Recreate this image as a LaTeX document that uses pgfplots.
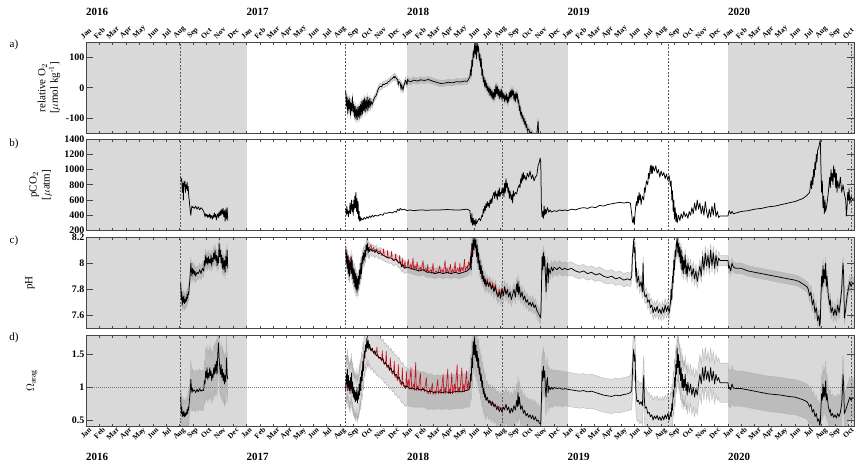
\documentclass[border=0pt]{standalone}
\usepackage{pgfplots}
\pgfplotsset{compat=1.18}
\usepackage{pgfplotstable}
\usepgfplotslibrary{fillbetween}
\usepackage{fontspec}
\setmainfont{Liberation Serif}
\definecolor{bggray}{gray}{0.85}
\definecolor{redl}{RGB}{200,16,30}

\pgfplotstableread{
m v e
19.42 -10 12
19.47 -60 12
19.52 -30 12
19.57 -85 12
19.62 -40 12
19.67 -70 12
19.72 -35 12
19.77 -90 12
19.82 -50 12
19.87 -75 12
19.92 -30 12
19.97 -80 12
20.02 -55 12
20.07 -95 12
20.12 -60 12
20.17 -100 12
20.22 -70 12
20.27 -105 12
20.32 -65 12
20.37 -95 12
20.42 -60 12
20.47 -100 12
20.52 -55 12
20.57 -90 12
20.62 -45 12
20.67 -85 12
20.72 -40 12
20.77 -75 12
20.82 -35 12
20.87 -80 12
20.92 -40 12
20.97 -70 12
21.02 -30 12
21.07 -75 12
21.12 -40 12
21.17 -65 12
21.22 -35 12
21.27 -60 12
21.32 -45 12
21.4 -55 12
21.5 -40 10
21.6 -30 10
21.7 -25 10
21.8 -10 10
21.9 0 10
22.0 5 10
22.1 3 10
22.2 12 10
22.3 10 10
22.4 15 10
22.5 14 10
22.6 20 10
22.7 22 10
22.8 28 10
22.9 30 10
23.0 36 10
23.05 32 10
23.1 38 10
23.2 30 10
23.3 26 10
23.35 10 10
23.4 20 10
23.5 15 10
23.55 -5 10
23.6 10 10
23.7 -8 10
23.75 5 10
23.8 12 10
23.9 25 10
24.0 10 10
24.05 28 10
24.1 22 10
24.3 20 10
24.5 25 10
24.8 22 10
25.0 26 10
25.3 24 10
25.6 27 10
25.9 22 10
26.2 18 10
26.5 14 10
26.8 15 10
27.1 18 10
27.4 16 10
27.7 20 10
28.0 19 10
28.3 22 10
28.5 21 10
28.6 28 10
28.7 35 10
28.75 60 10
28.8 40 10
28.85 90 10
28.9 70 10
28.95 120 10
29.0 100 10
29.05 140 10
29.1 110 10
29.15 150 10
29.2 95 10
29.25 145 10
29.3 120 10
29.35 135 10
29.4 90 10
29.45 110 10
29.5 70 10
29.55 95 10
29.6 40 10
29.65 60 10
29.7 20 10
29.75 35 10
29.8 5 10
29.85 25 10
29.9 0 10
29.95 15 10
30.0 -10 10
30.05 5 10
30.1 -15 10
30.15 0 10
30.2 -25 10
30.25 -5 10
30.3 -30 10
30.35 -10 10
30.4 -35 10
30.45 -15 10
30.5 -40 10
30.55 -5 10
30.6 -30 10
30.65 10 10
30.7 -20 10
30.75 5 10
30.8 -25 10
30.85 -5 10
30.9 -35 10
30.95 -10 10
31.0 -30 10
31.05 -5 10
31.1 -40 10
31.15 -15 10
31.2 -35 10
31.25 -20 10
31.3 -45 10
31.35 -25 10
31.4 -40 10
31.45 -20 10
31.5 -50 10
31.55 -30 10
31.6 -45 10
31.65 -15 10
31.7 -35 10
31.75 -10 10
31.8 -30 10
31.85 -5 10
31.9 -25 10
31.95 -10 10
32.0 -40 10
32.05 -20 10
32.1 -45 10
32.15 -15 10
32.2 -35 10
32.25 -20 10
32.3 -50 10
32.35 -40 10
32.4 -75 10
32.45 -60 10
32.5 -90 10
32.55 -80 10
32.6 -100 10
32.65 -90 10
32.7 -110 10
32.75 -100 10
32.8 -120 10
32.85 -110 10
32.9 -130 10
32.95 -120 10
33.0 -140 10
33.1 -135 10
33.2 -150 10
33.3 -145 10
33.5 -160 10
33.7 -155 10
33.8 -110 10
33.85 -160 10
34.0 -170 10
}\oxA

\pgfplotstableread{
m v
7.08 900
7.12 850
7.16 880
7.2 700
7.24 820
7.28 600
7.32 840
7.36 780
7.4 850
7.44 700
7.48 800
7.52 750
7.56 830
7.6 720
7.64 780
7.68 650
7.72 600
7.76 520
7.8 450
7.84 400
7.88 480
7.92 520
7.96 500
8.0 510
8.1 490
8.2 520
8.3 480
8.4 510
8.5 470
8.6 500
8.7 480
8.8 450
8.85 420
8.9 380
8.95 420
9.0 390
9.05 410
9.1 370
9.15 400
9.2 380
9.25 420
9.3 360
9.35 400
9.4 380
9.45 350
9.5 400
9.55 370
9.6 430
9.65 380
9.7 410
9.75 340
9.8 390
9.85 420
9.9 370
9.95 440
10.0 390
10.05 460
10.1 400
10.15 480
10.2 420
10.25 490
10.3 380
10.35 460
10.4 320
10.45 480
10.5 350
10.55 500
10.6 330
}\pcoA

\pgfplotstableread{
m v
19.42 480
19.46 400
19.5 520
19.54 420
19.58 470
19.62 380
19.66 450
19.7 430
19.74 560
19.78 420
19.82 520
19.86 600
19.9 450
19.94 540
19.98 400
20.02 600
20.06 480
20.1 650
20.14 500
20.18 700
20.22 450
20.26 620
20.3 420
20.34 580
20.38 350
20.42 450
20.46 320
20.5 380
20.55 330
20.6 360
20.7 340
20.8 370
20.9 350
21.0 380
21.1 360
21.2 390
21.3 370
21.4 400
21.5 380
21.6 400
21.8 390
22.0 410
22.2 400
22.3 430
22.5 425
22.7 440
22.9 430
23.1 450
23.2 440
23.3 480
23.4 460
23.5 490
23.6 470
23.8 480
24.0 460
24.2 470
24.5 460
25.0 470
25.5 465
26.0 470
26.5 470
27.0 475
27.5 470
28.0 470
28.5 480
28.7 460
28.8 300
28.85 420
28.9 270
28.95 360
29.0 280
29.05 330
29.1 260
29.15 350
29.2 290
29.3 330
29.4 360
29.5 330
29.6 400
29.65 380
29.7 480
29.75 430
29.8 520
29.85 460
29.9 550
29.95 500
30.0 580
30.05 520
30.1 560
30.15 500
30.2 600
30.25 550
30.3 620
30.35 560
30.4 640
30.5 700
30.55 620
30.6 720
30.65 650
30.7 680
30.75 600
30.8 720
30.85 650
30.9 760
30.95 640
31.0 700
31.05 680
31.1 750
31.15 690
31.2 760
31.25 640
31.3 820
31.35 700
31.4 880
31.45 760
31.5 820
31.55 700
31.6 760
31.65 620
31.7 720
31.75 650
31.8 600
31.85 680
31.9 560
31.95 720
32.0 650
32.1 700
32.2 680
32.3 760
32.4 800
32.45 760
32.5 880
32.55 820
32.6 940
32.65 850
32.7 960
32.75 880
32.8 920
32.9 860
33.0 950
33.1 900
33.2 980
33.3 880
33.4 930
33.5 850
33.6 900
33.7 920
33.8 1050
33.9 1100
33.95 1150
34.0 1100
34.05 500
34.1 380
34.15 450
34.2 360
34.25 520
34.3 400
34.35 480
34.4 420
34.5 500
34.6 440
34.7 470
34.8 440
35.0 460
35.2 450
35.4 470
35.6 460
35.8 470
36.0 460
36.3 480
36.6 470
36.9 490
37.2 500
37.5 490
37.8 510
38.1 500
38.4 530
38.7 520
39.0 540
39.3 550
39.6 560
39.9 570
40.2 560
40.5 570
40.7 560
40.8 420
40.85 320
40.9 300
40.95 380
41.0 280
41.05 420
41.1 520
41.15 580
41.2 520
41.25 650
41.3 560
41.35 700
41.4 600
41.45 670
41.5 540
41.6 650
41.7 600
41.75 760
41.8 700
41.9 850
42.0 800
42.05 950
42.1 880
42.2 1050
42.25 940
42.3 1060
42.35 950
42.4 1040
42.5 980
42.6 1050
42.7 950
42.8 1000
42.9 900
43.0 980
43.1 920
43.2 960
43.3 880
43.4 940
43.5 860
43.6 920
43.7 780
43.75 850
43.8 600
43.85 720
43.9 450
43.95 600
44.0 350
44.05 500
44.1 320
44.15 420
44.2 300
44.3 400
44.4 330
44.5 420
44.6 360
44.7 450
44.8 380
44.9 420
45.0 360
45.1 450
45.2 400
45.3 500
45.4 420
45.5 560
45.6 460
45.7 600
45.8 480
45.9 560
46.0 420
46.1 520
46.2 400
46.3 580
46.4 450
46.5 360
46.6 480
46.7 380
46.8 520
46.9 400
47.0 560
47.1 380
47.2 450
47.3 370
47.4 390
47.6 390
47.8 390
48.0 390
48.05 440
48.1 460
48.2 420
48.3 450
48.4 420
48.6 430
48.8 440
49.0 450
49.5 460
50.0 480
50.5 490
51.0 510
51.5 520
52.0 540
52.5 560
53.0 580
53.3 600
53.6 620
53.9 660
54.1 700
54.2 850
54.25 750
54.3 900
54.35 800
54.4 1000
54.45 900
54.5 1100
54.55 1000
54.6 1200
54.65 1100
54.7 1250
54.8 1300
54.85 1350
54.9 1390
54.95 1000
55.0 700
55.05 850
55.1 500
55.15 650
55.2 420
55.25 600
55.3 450
55.4 550
55.5 700
55.55 800
55.6 900
55.65 760
55.7 1000
55.75 850
55.8 950
55.85 800
55.9 1050
55.95 900
56.0 1000
56.05 760
56.1 950
56.15 700
56.2 850
56.3 750
56.4 900
56.5 700
56.6 800
56.7 680
56.8 600
56.85 390
56.9 500
56.95 700
57.0 600
57.05 750
57.1 550
57.2 650
57.3 600
57.42 620
}\pcoB

\pgfplotstableread{
m v e
7.08 7.85 0.05
7.12 7.72 0.05
7.16 7.78 0.05
7.2 7.68 0.05
7.24 7.74 0.05
7.28 7.7 0.05
7.32 7.75 0.05
7.36 7.69 0.05
7.4 7.72 0.05
7.44 7.7 0.05
7.48 7.74 0.05
7.52 7.71 0.05
7.56 7.76 0.05
7.6 7.73 0.05
7.64 7.78 0.05
7.68 7.76 0.05
7.72 7.82 0.05
7.76 7.87 0.05
7.8 7.92 0.05
7.84 8.0 0.05
7.88 7.95 0.05
7.92 7.9 0.05
7.96 7.96 0.05
8.0 7.92 0.05
8.05 7.95 0.05
8.1 7.91 0.05
8.15 7.94 0.05
8.2 7.9 0.05
8.3 7.93 0.05
8.4 7.92 0.05
8.5 7.95 0.05
8.6 7.92 0.05
8.7 7.96 0.05
8.8 7.94 0.05
8.85 8.02 0.05
8.9 7.98 0.05
8.95 8.06 0.05
9.0 8.0 0.05
9.05 8.04 0.05
9.1 7.99 0.05
9.15 8.05 0.05
9.2 8.0 0.05
9.25 8.03 0.05
9.3 8.0 0.05
9.35 8.06 0.05
9.4 7.98 0.05
9.45 8.04 0.05
9.5 8.01 0.05
9.55 8.08 0.05
9.6 8.03 0.05
9.65 8.1 0.05
9.7 8.02 0.05
9.75 8.06 0.05
9.8 7.98 0.05
9.85 8.05 0.05
9.9 8.0 0.05
9.95 8.15 0.05
10.0 8.05 0.05
10.05 8.1 0.05
10.1 8.0 0.05
10.15 8.06 0.05
10.2 7.96 0.05
10.25 8.04 0.05
10.3 7.95 0.05
10.35 8.02 0.05
10.4 7.93 0.05
10.45 8.05 0.05
10.5 7.98 0.05
10.55 8.1 0.05
10.6 7.96 0.05
}\phA

\pgfplotstableread{
m v e
19.42 8.1 0.05
19.46 8.0 0.05
19.5 8.08 0.05
19.54 7.96 0.05
19.58 8.05 0.05
19.62 7.92 0.05
19.66 8.02 0.05
19.7 7.9 0.05
19.74 8.0 0.05
19.78 7.95 0.05
19.82 8.05 0.05
19.86 7.92 0.05
19.9 8.02 0.05
19.94 7.88 0.05
19.98 7.96 0.05
20.02 7.85 0.05
20.06 7.95 0.05
20.1 7.82 0.05
20.14 7.92 0.05
20.18 7.8 0.05
20.22 7.9 0.05
20.26 7.78 0.05
20.3 7.88 0.05
20.34 7.8 0.05
20.38 7.9 0.05
20.42 7.84 0.05
20.46 7.95 0.05
20.5 7.88 0.05
20.55 8.0 0.05
20.6 7.92 0.05
20.65 8.05 0.05
20.7 8.0 0.05
20.75 8.08 0.05
20.8 8.02 0.05
20.85 8.1 0.05
20.9 8.05 0.05
20.95 8.14 0.05
21.0 8.1 0.05
21.05 8.15 0.05
21.1 8.08 0.05
21.15 8.12 0.05
21.2 8.09 0.05
21.3 8.11 0.04
21.4 8.09 0.04
21.5 8.1 0.04
21.6 8.08 0.04
21.7 8.1 0.04
21.8 8.08 0.04
21.9 8.07 0.04
22.0 8.08 0.04
22.2 8.06 0.04
22.4 8.05 0.04
22.6 8.04 0.04
22.8 8.04 0.04
23.0 8.02 0.04
23.2 8.03 0.04
23.4 8.0 0.04
23.5 8.01 0.04
23.6 7.97 0.04
23.7 7.99 0.04
23.8 7.96 0.04
24.0 7.97 0.04
24.3 7.96 0.04
24.6 7.95 0.04
24.9 7.94 0.04
25.2 7.95 0.04
25.5 7.93 0.04
25.8 7.93 0.04
26.1 7.92 0.04
26.4 7.93 0.04
26.7 7.92 0.04
27.0 7.93 0.04
27.3 7.92 0.04
27.6 7.93 0.04
27.9 7.92 0.04
28.2 7.93 0.04
28.5 7.94 0.04
28.7 7.96 0.04
28.75 8.05 0.05
28.8 7.95 0.05
28.85 8.15 0.05
28.9 8.05 0.05
28.95 8.2 0.05
29.0 8.1 0.05
29.05 8.2 0.05
29.1 8.12 0.05
29.15 8.18 0.05
29.2 8.05 0.05
29.25 8.14 0.05
29.3 8.0 0.05
29.35 8.08 0.05
29.4 7.95 0.05
29.45 8.02 0.05
29.5 7.92 0.05
29.55 7.98 0.05
29.6 7.88 0.05
29.65 7.94 0.05
29.7 7.86 0.05
29.75 7.9 0.05
29.8 7.84 0.05
29.85 7.88 0.05
29.9 7.82 0.05
30.0 7.86 0.05
30.1 7.82 0.05
30.2 7.85 0.05
30.3 7.8 0.05
30.4 7.83 0.05
30.5 7.78 0.05
30.6 7.82 0.05
30.7 7.77 0.05
30.8 7.74 0.05
30.9 7.78 0.05
31.0 7.73 0.05
31.1 7.8 0.05
31.2 7.75 0.05
31.3 7.82 0.05
31.4 7.76 0.05
31.5 7.8 0.05
31.6 7.74 0.05
31.7 7.78 0.05
31.8 7.72 0.05
31.9 7.76 0.05
32.0 7.8 0.05
32.1 7.74 0.05
32.2 7.84 0.05
32.25 7.78 0.05
32.3 7.86 0.05
32.35 7.76 0.05
32.4 7.82 0.05
32.5 7.74 0.05
32.6 7.78 0.05
32.7 7.72 0.05
32.8 7.75 0.05
32.9 7.7 0.05
33.0 7.72 0.05
33.1 7.68 0.05
33.2 7.7 0.05
33.3 7.67 0.05
33.4 7.7 0.05
33.5 7.66 0.05
33.6 7.68 0.05
33.7 7.64 0.05
33.8 7.62 0.05
33.9 7.6 0.05
34.0 7.58 0.05
34.05 7.8 0.05
34.1 8.05 0.05
34.15 7.95 0.05
34.2 8.08 0.05
34.25 7.98 0.05
34.3 8.05 0.05
34.35 7.9 0.05
34.4 7.78 0.05
34.45 7.95 0.05
34.5 8.0 0.05
34.55 7.85 0.05
34.6 7.96 0.05
34.7 7.92 0.05
34.8 7.97 0.05
34.9 7.94 0.05
35.0 7.97 0.05
35.2 7.95 0.05
35.4 7.97 0.05
35.6 7.95 0.05
35.8 7.96 0.05
36.0 7.95 0.05
36.3 7.96 0.05
36.6 7.94 0.05
36.9 7.93 0.05
37.2 7.94 0.05
37.5 7.92 0.05
37.8 7.93 0.05
38.1 7.91 0.05
38.4 7.92 0.05
38.7 7.9 0.05
39.0 7.89 0.05
39.3 7.9 0.05
39.6 7.88 0.05
39.9 7.89 0.05
40.2 7.87 0.05
40.5 7.88 0.05
40.7 7.87 0.05
40.8 7.9 0.05
40.85 8.05 0.05
40.9 8.1 0.05
40.95 8.18 0.05
41.0 8.08 0.05
41.05 8.12 0.05
41.1 7.9 0.05
41.15 7.96 0.05
41.2 7.85 0.05
41.3 7.9 0.05
41.4 7.82 0.05
41.5 7.86 0.05
41.6 7.78 0.05
41.65 8.0 0.05
41.7 7.8 0.05
41.8 7.74 0.05
41.9 7.76 0.05
42.0 7.7 0.05
42.1 7.72 0.05
42.2 7.66 0.05
42.3 7.68 0.05
42.4 7.62 0.05
42.5 7.66 0.05
42.6 7.63 0.05
42.7 7.67 0.05
42.8 7.62 0.05
42.9 7.65 0.05
43.0 7.61 0.05
43.1 7.66 0.05
43.2 7.62 0.05
43.3 7.68 0.05
43.4 7.63 0.05
43.5 7.67 0.05
43.6 7.62 0.05
43.7 7.7 0.05
43.75 7.8 0.05
43.8 7.72 0.05
43.85 7.9 0.05
43.9 7.85 0.05
43.95 8.02 0.05
44.0 7.95 0.05
44.05 8.1 0.05
44.1 8.05 0.05
44.15 8.15 0.05
44.2 8.2 0.05
44.25 8.08 0.05
44.3 8.15 0.05
44.35 8.05 0.05
44.4 8.12 0.05
44.45 8.0 0.05
44.5 8.1 0.05
44.55 7.95 0.05
44.6 8.05 0.05
44.65 7.92 0.05
44.7 8.02 0.05
44.75 7.96 0.05
44.8 8.06 0.05
44.85 7.92 0.05
44.9 7.98 0.05
44.95 7.9 0.05
45.0 8.0 0.05
45.1 7.94 0.05
45.2 7.98 0.05
45.3 7.9 0.05
45.4 7.96 0.05
45.5 7.88 0.05
45.6 7.94 0.05
45.7 7.86 0.05
45.8 7.92 0.05
45.9 7.98 0.05
46.0 7.9 0.05
46.1 8.05 0.05
46.2 7.95 0.05
46.3 8.08 0.05
46.4 7.98 0.05
46.5 8.06 0.05
46.6 7.96 0.05
46.7 8.1 0.05
46.8 7.98 0.05
46.9 8.08 0.05
47.0 7.96 0.05
47.1 8.06 0.05
47.2 7.98 0.05
47.3 8.04 0.05
47.4 8.02 0.04
47.7 8.02 0.04
48.0 8.02 0.04
48.05 7.96 0.04
48.1 7.98 0.04
48.2 7.94 0.04
48.3 8.0 0.04
48.4 7.97 0.04
48.6 7.96 0.04
49.0 7.96 0.04
49.5 7.94 0.04
50.0 7.93 0.04
50.5 7.92 0.04
51.0 7.91 0.04
51.5 7.9 0.04
52.0 7.89 0.04
52.5 7.88 0.04
53.0 7.87 0.04
53.3 7.86 0.04
53.6 7.84 0.04
53.9 7.82 0.04
54.0 7.8 0.05
54.1 7.75 0.05
54.2 7.78 0.05
54.3 7.68 0.05
54.4 7.72 0.05
54.5 7.62 0.05
54.6 7.66 0.05
54.7 7.56 0.05
54.8 7.6 0.05
54.85 7.52 0.05
54.9 7.55 0.05
54.95 7.75 0.05
55.0 7.9 0.05
55.05 7.82 0.05
55.1 7.98 0.05
55.15 7.85 0.05
55.2 7.95 0.05
55.25 7.88 0.05
55.3 8.0 0.05
55.35 7.82 0.05
55.4 7.9 0.05
55.5 7.75 0.05
55.6 7.68 0.05
55.65 7.72 0.05
55.7 7.62 0.05
55.8 7.66 0.05
55.9 7.6 0.05
56.0 7.65 0.05
56.1 7.6 0.05
56.2 7.68 0.05
56.3 7.62 0.05
56.4 7.7 0.05
56.5 7.8 0.05
56.55 7.92 0.05
56.6 8.0 0.05
56.65 7.9 0.05
56.7 7.58 0.05
56.8 7.65 0.05
56.9 7.75 0.05
57.0 7.8 0.05
57.1 7.86 0.05
57.2 7.82 0.05
57.3 7.85 0.05
57.42 7.84 0.05
}\phB

\pgfplotstableread{
m v
19.42 8.12
19.5 8.05
19.55 7.98
19.6 8.06
19.65 7.94
19.7 8.02
19.75 7.92
19.8 8.04
19.85 7.95
19.9 8.0
19.95 7.9
20.0 7.94
20.1 7.86
20.2 7.84
20.3 7.88
20.4 7.86
20.5 7.92
20.6 7.98
20.7 8.06
20.8 8.04
20.9 8.08
21.0 8.12
21.1 8.1
21.2 8.12
21.3 8.14
21.4 8.1
21.5 8.12
21.6 8.09
21.7 8.11
21.8 8.1
21.9 8.08
22.0 8.1
22.1 8.06
22.2 8.07
22.25 8.11
22.3 8.06
22.4 8.05
22.5 8.04
22.55 8.1
22.6 8.04
22.8 8.05
22.85 8.09
22.9 8.03
23.1 8.03
23.15 8.07
23.2 8.02
23.4 8.0
23.45 8.06
23.5 8.0
23.6 7.98
23.65 8.04
23.7 7.97
23.8 7.97
23.85 8.02
23.9 7.96
24.0 7.97
24.1 8.03
24.15 7.96
24.3 7.99
24.35 7.95
24.45 8.04
24.5 7.95
24.6 7.98
24.7 7.95
24.75 8.01
24.85 7.94
25.0 7.97
25.05 7.94
25.2 8.02
25.25 7.94
25.4 7.96
25.5 7.93
25.55 7.99
25.6 7.93
25.8 7.95
25.85 7.92
25.95 8.0
26.0 7.92
26.2 7.94
26.3 7.92
26.45 7.98
26.5 7.93
26.6 7.95
26.7 7.92
26.85 8.02
26.9 7.92
27.0 7.96
27.1 7.92
27.25 7.99
27.3 7.92
27.4 7.95
27.5 7.93
27.6 8.01
27.65 7.93
27.8 7.96
27.9 7.93
27.95 8.0
28.0 7.93
28.1 7.97
28.2 7.94
28.3 8.03
28.35 7.94
28.5 7.98
28.55 7.95
28.6 8.01
28.7 7.98
28.8 8.1
29.0 8.15
29.2 8.1
29.4 8.0
29.6 7.92
29.8 7.86
29.9 7.84
30.0 7.88
30.1 7.83
30.2 7.86
30.3 7.81
30.4 7.85
30.5 7.79
30.6 7.84
30.7 7.78
30.8 7.76
30.9 7.8
31.0 7.75
31.1 7.81
31.2 7.76
31.3 7.8
}\phR

\pgfplotstableread{
m v e
7.08 0.86 0.25
7.12 0.6 0.2
7.16 0.7 0.2
7.2 0.55 0.2
7.24 0.62 0.2
7.28 0.56 0.2
7.32 0.64 0.2
7.36 0.55 0.2
7.4 0.6 0.2
7.44 0.56 0.2
7.48 0.62 0.2
7.52 0.58 0.2
7.56 0.66 0.2
7.6 0.6 0.2
7.64 0.7 0.25
7.68 0.65 0.25
7.72 0.78 0.25
7.76 0.85 0.25
7.8 0.95 0.25
7.84 1.12 0.3
7.88 1.0 0.3
7.92 0.92 0.3
7.96 0.98 0.3
8.0 0.94 0.3
8.1 0.96 0.3
8.2 0.92 0.3
8.3 0.97 0.3
8.4 0.93 0.3
8.5 0.98 0.3
8.6 0.94 0.3
8.7 0.96 0.3
8.8 0.95 0.3
8.85 1.1 0.3
8.9 1.05 0.3
8.95 1.25 0.35
9.0 1.15 0.35
9.05 1.3 0.35
9.1 1.12 0.35
9.15 1.22 0.35
9.2 1.15 0.35
9.25 1.3 0.35
9.3 1.18 0.35
9.35 1.25 0.35
9.4 1.1 0.35
9.45 1.2 0.35
9.5 1.15 0.35
9.55 1.3 0.35
9.6 1.2 0.35
9.65 1.35 0.35
9.7 1.22 0.35
9.75 1.4 0.35
9.8 1.2 0.35
9.85 1.5 0.35
9.9 1.68 0.35
9.95 1.45 0.35
10.0 1.3 0.35
10.05 1.2 0.35
10.1 1.35 0.35
10.15 1.15 0.35
10.2 1.28 0.35
10.25 1.1 0.35
10.3 1.22 0.35
10.35 1.05 0.35
10.4 1.18 0.35
10.45 1.08 0.35
10.5 1.45 0.35
10.55 1.2 0.35
10.6 1.12 0.35
}\omA

\pgfplotstableread{
m v e
19.42 0.95 0.3
19.46 1.2 0.3
19.5 1.05 0.3
19.54 1.28 0.3
19.58 1.0 0.3
19.62 1.18 0.3
19.66 0.95 0.3
19.7 1.1 0.3
19.74 0.9 0.3
19.78 1.15 0.3
19.82 0.98 0.3
19.86 1.22 0.3
19.9 0.92 0.3
19.94 1.08 0.3
19.98 0.85 0.3
20.02 1.0 0.3
20.06 0.82 0.3
20.1 0.95 0.3
20.14 0.78 0.3
20.18 0.92 0.3
20.22 0.8 0.3
20.26 1.0 0.3
20.3 0.76 0.3
20.34 0.9 0.3
20.38 0.82 0.3
20.42 1.05 0.3
20.46 0.88 0.3
20.5 1.15 0.3
20.55 0.95 0.3
20.6 1.25 0.3
20.65 1.1 0.3
20.7 1.4 0.3
20.75 1.25 0.3
20.8 1.55 0.3
20.85 1.45 0.3
20.9 1.65 0.3
20.95 1.55 0.3
21.0 1.75 0.3
21.05 1.6 0.3
21.1 1.72 0.3
21.15 1.58 0.3
21.2 1.66 0.3
21.3 1.56 0.3
21.4 1.6 0.3
21.5 1.52 0.3
21.6 1.56 0.3
21.7 1.48 0.3
21.8 1.5 0.3
21.9 1.45 0.3
22.0 1.46 0.3
22.1 1.42 0.3
22.2 1.44 0.3
22.3 1.36 0.3
22.4 1.38 0.3
22.5 1.32 0.3
22.6 1.34 0.3
22.7 1.27 0.3
22.8 1.3 0.3
22.9 1.23 0.3
23.0 1.25 0.3
23.1 1.18 0.3
23.2 1.2 0.3
23.3 1.14 0.3
23.4 1.16 0.3
23.5 1.1 0.3
23.6 1.06 0.3
23.7 1.08 0.3
23.8 1.02 0.3
23.9 1.0 0.3
24.0 1.02 0.28
24.2 0.98 0.28
24.4 0.99 0.28
24.6 0.97 0.28
24.8 0.98 0.28
25.0 0.96 0.27
25.2 0.97 0.27
25.4 0.95 0.27
25.6 0.93 0.27
25.8 0.94 0.27
26.0 0.92 0.26
26.3 0.93 0.26
26.6 0.92 0.26
26.9 0.93 0.26
27.2 0.92 0.26
27.5 0.93 0.26
27.8 0.94 0.26
28.1 0.93 0.26
28.4 0.95 0.26
28.6 0.96 0.26
28.7 1.0 0.3
28.75 1.2 0.3
28.8 1.1 0.3
28.85 1.45 0.3
28.9 1.3 0.3
28.95 1.7 0.3
29.0 1.5 0.3
29.05 1.75 0.3
29.1 1.45 0.3
29.15 1.65 0.3
29.2 1.4 0.3
29.25 1.55 0.3
29.3 1.3 0.3
29.35 1.45 0.3
29.4 1.2 0.3
29.45 1.3 0.3
29.5 1.1 0.3
29.55 1.2 0.3
29.6 1.0 0.3
29.65 1.1 0.3
29.7 0.9 0.3
29.75 0.98 0.3
29.8 0.85 0.3
29.85 0.9 0.3
29.9 0.8 0.3
30.0 0.85 0.25
30.1 0.76 0.25
30.2 0.8 0.25
30.3 0.72 0.25
30.4 0.78 0.25
30.5 0.7 0.25
30.6 0.74 0.25
30.7 0.66 0.25
30.8 0.7 0.25
30.9 0.63 0.25
31.0 0.68 0.25
31.1 0.62 0.25
31.2 0.7 0.25
31.3 0.66 0.25
31.4 0.74 0.25
31.5 0.65 0.25
31.6 0.7 0.25
31.7 0.6 0.25
31.8 0.68 0.25
31.9 0.62 0.25
32.0 0.72 0.25
32.1 0.65 0.25
32.2 0.8 0.25
32.25 0.7 0.25
32.3 0.92 0.25
32.35 0.72 0.25
32.4 0.85 0.25
32.5 0.66 0.25
32.6 0.72 0.25
32.7 0.6 0.25
32.8 0.65 0.25
32.9 0.56 0.25
33.0 0.6 0.25
33.1 0.54 0.25
33.2 0.58 0.25
33.3 0.52 0.25
33.4 0.57 0.25
33.5 0.5 0.25
33.6 0.55 0.25
33.7 0.48 0.25
33.8 0.5 0.25
33.9 0.45 0.25
34.0 0.44 0.25
34.05 0.8 0.3
34.1 1.25 0.3
34.15 1.1 0.3
34.2 1.32 0.3
34.25 1.15 0.3
34.3 1.25 0.3
34.35 0.95 0.3
34.4 0.85 0.3
34.45 1.1 0.3
34.5 1.15 0.3
34.55 0.92 0.3
34.6 1.02 0.3
34.7 0.96 0.28
34.8 1.0 0.28
34.9 0.97 0.28
35.0 1.0 0.27
35.2 0.98 0.27
35.4 0.99 0.27
35.6 0.97 0.27
35.8 0.98 0.26
36.0 0.97 0.26
36.3 0.96 0.26
36.6 0.95 0.26
36.9 0.94 0.26
37.2 0.95 0.26
37.5 0.93 0.26
37.8 0.94 0.26
38.1 0.92 0.26
38.4 0.9 0.26
38.7 0.88 0.26
39.0 0.87 0.26
39.3 0.86 0.26
39.6 0.88 0.26
39.9 0.87 0.26
40.2 0.89 0.26
40.5 0.9 0.26
40.7 0.92 0.26
40.8 0.95 0.3
40.85 1.2 0.3
40.9 1.45 0.3
40.95 1.58 0.3
41.0 1.4 0.3
41.05 1.5 0.3
41.1 1.0 0.3
41.15 0.85 0.3
41.2 0.78 0.3
41.3 0.8 0.3
41.4 0.74 0.3
41.5 0.78 0.3
41.6 0.72 0.3
41.65 1.0 0.3
41.7 1.18 0.3
41.75 0.8 0.3
41.8 0.68 0.3
41.9 0.7 0.3
42.0 0.6 0.3
42.1 0.62 0.3
42.2 0.55 0.3
42.3 0.58 0.3
42.4 0.5 0.3
42.5 0.56 0.3
42.6 0.52 0.3
42.7 0.57 0.3
42.8 0.5 0.3
42.9 0.55 0.3
43.0 0.49 0.3
43.1 0.56 0.3
43.2 0.5 0.3
43.3 0.58 0.3
43.4 0.52 0.3
43.5 0.6 0.3
43.6 0.5 0.3
43.7 0.62 0.3
43.75 0.55 0.3
43.8 0.75 0.3
43.85 0.65 0.3
43.9 0.95 0.3
43.95 0.85 0.3
44.0 1.15 0.3
44.05 1.0 0.3
44.1 1.35 0.3
44.15 1.2 0.3
44.2 1.6 0.3
44.25 1.3 0.3
44.3 1.5 0.3
44.35 1.2 0.3
44.4 1.4 0.3
44.45 1.1 0.3
44.5 1.3 0.3
44.55 1.0 0.3
44.6 1.2 0.3
44.65 0.95 0.3
44.7 1.12 0.3
44.75 1.0 0.3
44.8 1.2 0.3
44.85 0.95 0.3
44.9 1.05 0.3
44.95 0.88 0.3
45.0 1.08 0.3
45.1 0.92 0.3
45.2 1.05 0.3
45.3 0.88 0.3
45.4 1.0 0.3
45.5 0.85 0.3
45.6 0.98 0.3
45.7 0.88 0.3
45.8 1.05 0.3
45.9 1.2 0.3
46.0 1.05 0.3
46.1 1.3 0.3
46.2 1.1 0.3
46.3 1.32 0.3
46.4 1.12 0.3
46.5 1.25 0.3
46.6 1.08 0.3
46.7 1.3 0.3
46.8 1.1 0.3
46.9 1.25 0.3
47.0 1.05 0.3
47.1 1.2 0.3
47.2 1.1 0.3
47.3 1.15 0.3
47.4 1.07 0.3
47.7 1.07 0.3
48.0 1.07 0.3
48.05 0.98 0.28
48.1 1.0 0.28
48.2 0.96 0.28
48.3 1.05 0.28
48.4 0.99 0.28
48.6 0.98 0.27
49.0 0.98 0.27
49.5 0.96 0.27
50.0 0.94 0.27
50.5 0.92 0.27
51.0 0.9 0.27
51.5 0.89 0.27
52.0 0.88 0.27
52.5 0.86 0.27
53.0 0.85 0.27
53.3 0.83 0.27
53.6 0.81 0.27
53.9 0.78 0.27
54.0 0.75 0.28
54.1 0.7 0.28
54.2 0.74 0.28
54.3 0.62 0.28
54.4 0.66 0.28
54.5 0.55 0.28
54.6 0.6 0.28
54.7 0.48 0.28
54.8 0.52 0.28
54.85 0.42 0.28
54.9 0.45 0.28
54.95 0.7 0.3
55.0 0.9 0.3
55.05 0.8 0.3
55.1 1.05 0.3
55.15 0.85 0.3
55.2 1.0 0.3
55.25 0.85 0.3
55.3 1.1 0.3
55.35 0.8 0.3
55.4 0.9 0.3
55.5 0.7 0.3
55.6 0.62 0.3
55.65 0.66 0.3
55.7 0.56 0.3
55.8 0.6 0.3
55.9 0.54 0.3
56.0 0.58 0.3
56.1 0.53 0.3
56.2 0.6 0.3
56.3 0.55 0.3
56.4 0.62 0.3
56.5 0.75 0.3
56.55 0.95 0.3
56.6 1.2 0.3
56.65 1.0 0.3
56.7 0.6 0.3
56.8 0.65 0.3
56.9 0.72 0.3
57.0 0.78 0.3
57.1 0.85 0.3
57.2 0.8 0.3
57.3 0.84 0.3
57.42 0.83 0.3
}\omB

\pgfplotstableread{
m v
19.42 1.0
19.5 1.15
19.55 0.95
19.6 1.1
19.7 0.95
19.8 1.05
19.9 0.9
20.0 1.0
20.1 0.85
20.2 0.9
20.3 0.82
20.4 0.95
20.5 1.05
20.6 1.2
20.7 1.35
20.8 1.5
20.9 1.6
21.0 1.7
21.1 1.65
21.2 1.6
21.3 1.58
21.4 1.55
21.5 1.55
21.6 1.5
21.7 1.52
21.75 1.62
21.8 1.48
21.9 1.44
22.0 1.45
22.1 1.4
22.15 1.56
22.2 1.4
22.3 1.35
22.4 1.37
22.45 1.55
22.5 1.3
22.6 1.32
22.7 1.25
22.75 1.45
22.8 1.27
22.9 1.2
23.0 1.22
23.05 1.4
23.1 1.15
23.2 1.17
23.3 1.1
23.35 1.35
23.4 1.12
23.5 1.06
23.6 1.03
23.65 1.3
23.7 1.04
23.8 1.0
23.9 0.98
23.95 1.25
24.0 1.0
24.1 1.12
24.15 0.97
24.3 1.3
24.35 0.96
24.5 1.05
24.55 0.95
24.65 1.38
24.7 0.95
24.8 1.02
24.85 0.95
25.0 1.22
25.05 0.94
25.2 1.0
25.3 0.93
25.45 1.15
25.5 0.92
25.6 0.9
25.7 0.98
25.75 0.9
25.9 1.06
25.95 0.89
26.1 0.95
26.15 0.89
26.3 1.12
26.35 0.9
26.5 0.97
26.55 0.9
26.7 1.2
26.75 0.9
26.85 1.0
26.9 0.9
27.05 1.28
27.1 0.9
27.2 0.98
27.25 0.9
27.35 1.22
27.4 0.9
27.55 1.05
27.6 0.91
27.75 1.35
27.8 0.91
27.9 1.0
27.95 0.92
28.1 1.3
28.15 0.93
28.25 1.05
28.3 0.93
28.45 1.25
28.5 0.95
28.6 1.1
28.65 0.97
28.7 1.0
28.8 1.2
28.9 1.45
29.0 1.65
29.1 1.6
29.2 1.5
29.3 1.4
29.4 1.25
29.5 1.15
29.6 1.05
29.7 0.95
29.8 0.88
29.9 0.84
30.0 0.8
30.1 0.8
30.2 0.76
30.3 0.78
30.4 0.74
30.5 0.75
30.6 0.72
30.7 0.7
30.8 0.72
30.9 0.68
31.0 0.7
31.1 0.66
31.2 0.68
31.3 0.65
}\omR

\pgfplotsset{
  panel/.style={
    scale only axis, width=768pt, height=91.5pt,
    anchor=north west,
    xmin=0, xmax=57.42,
    xtick={0,1,...,57},
    xticklabels={},
    tick align=inside,
    xtick pos=both, ytick pos=both,
    set layers, axis on top,
    clip mode=individual,
    axis line style={black!72, line width=0.9pt},
    tick style={black!72, line width=0.6pt},
    major tick length=7pt,
    xtick style={/pgfplots/major tick length=3pt},
    yticklabel style={font=\bfseries\fontsize{10}{10}\selectfont, inner sep=1.5pt},
    /pgf/number format/assume math mode=true,
    /pgf/number format/1000 sep={},
  },
  blk/.style={black, line width=0.75pt, line join=round},
  red/.style={redl, line width=0.6pt, line join=round},
  vdash/.style={black!65, line width=0.6pt, dash pattern=on 2pt off 1.5pt},
  bandedge/.style={black!30, line width=0.35pt},
}
\newcommand{\bg}[2]{%
  \addplot[fill=bggray, draw=none, on layer=axis background] coordinates {(0,#1)(12,#1)(12,#2)(0,#2)};
  \addplot[fill=bggray, draw=none, on layer=axis background] coordinates {(24,#1)(36,#1)(36,#2)(24,#2)};
  \addplot[fill=bggray, draw=none, on layer=axis background] coordinates {(48,#1)(57.42,#1)(57.42,#2)(48,#2)};
}
\newcommand{\vlines}[2]{%
  \addplot[vdash] coordinates {(7.03,#1)(7.03,#2)};
  \addplot[vdash] coordinates {(19.4,#1)(19.4,#2)};
  \addplot[vdash] coordinates {(31.15,#1)(31.15,#2)};
  \addplot[vdash] coordinates {(43.56,#1)(43.56,#2)};
  \addplot[vdash] coordinates {(57.2,#1)(57.2,#2)};
}
\newcommand{\band}[2]{%
  \addplot[name path=#2u, bandedge] table[x=m, y expr=\thisrow{v}+\thisrow{e}] {#1};
  \addplot[name path=#2l, bandedge] table[x=m, y expr=\thisrow{v}-\thisrow{e}] {#1};
  \addplot[fill=black, fill opacity=0.13, draw=none] fill between[of=#2u and #2l];
}
\newcommand{\R}[1]{\rotatebox{45}{#1}}
\newcommand{\ml}{\R{Jan},\R{Feb},\R{Mar},\R{Apr},\R{May},\R{Jun},\R{Jul},\R{Aug},\R{Sep},\R{Oct},\R{Nov},\R{Dec},\R{Jan},\R{Feb},\R{Mar},\R{Apr},\R{May},\R{Jun},\R{Jul},\R{Aug},\R{Sep},\R{Oct},\R{Nov},\R{Dec},\R{Jan},\R{Feb},\R{Mar},\R{Apr},\R{May},\R{Jun},\R{Jul},\R{Aug},\R{Sep},\R{Oct},\R{Nov},\R{Dec},\R{Jan},\R{Feb},\R{Mar},\R{Apr},\R{May},\R{Jun},\R{Jul},\R{Aug},\R{Sep},\R{Oct},\R{Nov},\R{Dec},\R{Jan},\R{Feb},\R{Mar},\R{Apr},\R{May},\R{Jun},\R{Jul},\R{Aug},\R{Sep},\R{Oct}}

\begin{document}
\begin{tikzpicture}

% ---- a) relative O2
\begin{axis}[panel, at={(86pt,-42pt)}, ymin=-150, ymax=150, ytick={-100,0,100},
  xticklabel pos=right, xticklabels/.expand once={\ml},
  xticklabel style={anchor=south, yshift=2pt, inner sep=0.3pt,
    font=\bfseries\fontsize{7.5}{7.5}\selectfont}]
\bg{-150}{150}
\vlines{-150}{150}
\band{\oxA}{oa}
\addplot[blk] table[x=m, y=v] {\oxA};
\end{axis}

% ---- b) pCO2
\begin{axis}[panel, at={(86pt,-139pt)}, ymin=200, ymax=1400, ytick={200,400,...,1400}]
\bg{200}{1400}
\vlines{200}{1400}
\addplot[blk] table[x=m, y=v] {\pcoA};
\addplot[blk] table[x=m, y=v] {\pcoB};
\end{axis}

% ---- c) pH
\begin{axis}[panel, at={(86pt,-237pt)}, ymin=7.5, ymax=8.2, ytick={7.6,7.8,8,8.2}]
\bg{7.5}{8.2}
\vlines{7.5}{8.2}
\band{\phA}{pa}
\band{\phB}{pb}
\addplot[red] table[x=m, y=v] {\phR};
\addplot[blk] table[x=m, y=v] {\phA};
\addplot[blk] table[x=m, y=v] {\phB};
\end{axis}

% ---- d) Omega arag
\begin{axis}[panel, at={(86pt,-335pt)}, ymin=0.4, ymax=1.8, ytick={0.5,1,1.5},
  xticklabel pos=left, xticklabels/.expand once={\ml},
  xticklabel style={anchor=north, inner sep=0.3pt,
    font=\bfseries\fontsize{7.5}{7.5}\selectfont}]
\bg{0.4}{1.8}
\vlines{0.4}{1.8}
\addplot[black!55, line width=0.5pt, dash pattern=on 1pt off 1pt] coordinates {(0,1)(57.42,1)};
\band{\omA}{wa}
\band{\omB}{wb}
\addplot[red] table[x=m, y=v] {\omR};
\addplot[blk] table[x=m, y=v] {\omA};
\addplot[blk] table[x=m, y=v] {\omB};
\end{axis}

% year labels
\foreach \xx/\yy in {86/2016, 246.5/2017, 407/2018, 567.5/2019, 728/2020}{
  \node[anchor=west, inner sep=0pt, font=\bfseries\fontsize{11}{11}\selectfont] at (\xx pt,-12pt) {\yy};
  \node[anchor=west, inner sep=0pt, font=\bfseries\fontsize{11}{11}\selectfont] at (\xx pt,-457pt) {\yy};
}
% panel letters
\node[font=\fontsize{11}{11}\selectfont] at (14pt,-45pt) {a)};
\node[font=\fontsize{11}{11}\selectfont] at (14pt,-144pt) {b)};
\node[font=\fontsize{11}{11}\selectfont] at (14pt,-241pt) {c)};
\node[font=\fontsize{11}{11}\selectfont] at (14pt,-338pt) {d)};
% y labels
\node[rotate=90, align=center, font=\fontsize{11}{12.5}\selectfont] at (49pt,-88pt) {relative O$_2$\\{}[$\mu$mol kg\textsuperscript{-1}]};
\node[rotate=90, align=center, font=\fontsize{11}{13}\selectfont] at (40.5pt,-185pt) {pCO$_2$\\{}[$\mu$atm]};
\node[rotate=90, font=\fontsize{11}{11}\selectfont] at (30pt,-283pt) {pH};
\node[rotate=90, font=\fontsize{11}{11}\selectfont] at (32pt,-381pt) {$\Omega_{\mathrm{arag}}$};

\pgfresetboundingbox
\useasboundingbox (0,0) rectangle (859pt,-466pt);
\end{tikzpicture}
\end{document}
